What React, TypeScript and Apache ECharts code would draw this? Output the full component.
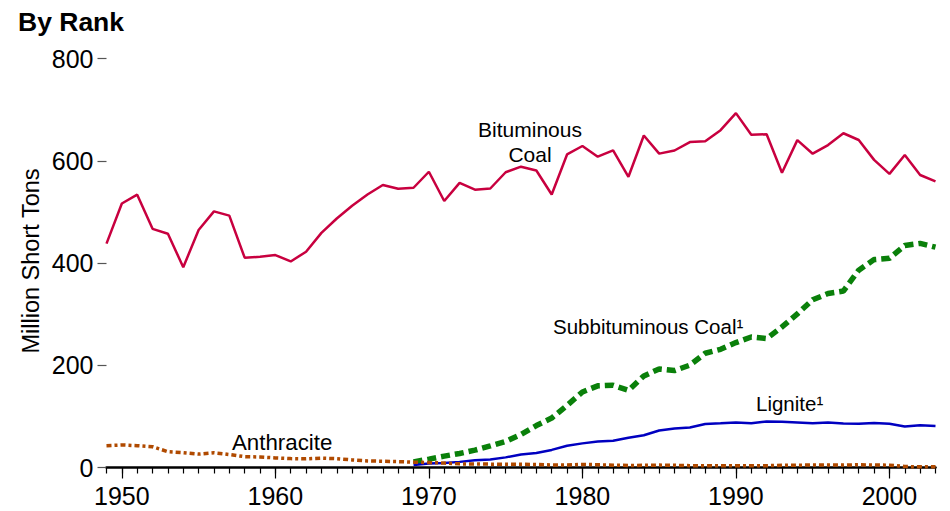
import React, { useEffect, useRef } from "react";
import * as echarts from "echarts";

const years: number[] = [];
for (let y = 1949; y <= 2003; y++) years.push(y);

const bituminous = [
  437.9, 516.3, 533.7, 466.8, 457.3, 391.7, 464.6, 500.9, 492.7, 410.4,
  412.0, 415.5, 403.0, 422.1, 458.9, 487.0, 512.1, 533.9, 552.6, 545.2,
  547.2, 578.5, 521.3, 556.8, 543.5, 545.7, 577.5, 588.4, 581.0, 534.0,
  612.3, 628.8, 608.0, 620.2, 568.6, 649.5, 613.9, 620.1, 636.6, 638.1,
  659.8, 693.2, 650.7, 651.8, 576.7, 640.3, 613.8, 630.7, 653.8, 640.6,
  601.7, 574.3, 611.3, 572.1, 559.6,
];

// Subbituminous and lignite are reported separately from 1969 on
const laterYears: number[] = years.filter((y) => y >= 1969);

const subbituminous = [
  10.9, 16.4, 22.2, 27.5, 33.9, 42.2, 51.1, 64.8, 82.1, 96.8,
  121.5, 147.7, 159.7, 160.9, 151.0, 179.2, 192.7, 189.6, 200.2, 223.5,
  231.2, 244.3, 255.3, 252.2, 274.9, 300.5, 328.0, 340.3, 345.1, 385.9,
  406.7, 409.2, 434.4, 438.4, 431.0,
];

const lignite = [
  5.0, 8.0, 8.7, 11.0, 14.3, 15.5, 19.8, 25.5, 28.2, 34.4,
  42.5, 47.2, 50.7, 52.4, 58.3, 63.1, 72.4, 76.4, 78.4, 85.1,
  86.4, 88.1, 86.5, 90.1, 89.5, 88.1, 86.5, 88.1, 86.3, 85.8,
  87.2, 85.6, 80.0, 82.5, 81.0,
];

const anthracite = [
  42.7, 44.1, 42.7, 40.6, 30.9, 29.1, 26.2, 28.9, 25.3, 21.2,
  20.6, 18.8, 17.4, 16.9, 18.3, 17.2, 14.9, 12.9, 12.3, 11.5,
  10.5, 9.7, 8.7, 7.1, 6.8, 6.6, 6.2, 6.2, 5.9, 5.0,
  4.8, 6.1, 5.4, 4.6, 4.1, 4.2, 4.7, 4.3, 3.6, 3.6,
  3.3, 3.5, 3.4, 3.5, 4.3, 4.6, 4.7, 4.8, 4.7, 5.3,
  4.8, 4.6, 1.9, 1.4, 1.3,
];

const xLabelYears = [1950, 1960, 1970, 1980, 1990, 2000];
const yTicks = [0, 200, 400, 600, 800];

const FONT = 'Arial, "Liberation Sans", Helvetica, sans-serif';

function pairs(xs: number[], vs: number[]) {
  return xs.map((x, i) => [x, vs[i]]);
}

export default function App() {
  const ref = useRef<HTMLDivElement>(null);

  useEffect(() => {
    if (!ref.current) return;
    const chart = echarts.init(ref.current, undefined, { renderer: "svg" });
    const option: any = {
      animation: false,
      backgroundColor: "#ffffff",
      textStyle: { fontFamily: FONT },
      title: {
        text: "By Rank",
        left: 13,
        top: 3,
        textStyle: { fontFamily: FONT, fontSize: 26.5, fontWeight: "bold", color: "#000" },
      },
      grid: {
        left: 106.5,
        right: 14.5,
        top: 58.5,
        bottom: 43.5,
        outerBoundsMode: "none",
      },
      xAxis: [
        {
          type: "value",
          min: 1949,
          max: 2003,
          position: "bottom",
          splitLine: { show: false },
          axisLine: { show: true, lineStyle: { color: "#000", width: 2.5 } },
          axisTick: {
            show: true,
            inside: false,
            length: 6,
            customValues: years,
            lineStyle: { color: "#000", width: 1.2 },
          },
          axisLabel: {
            customValues: xLabelYears,
            formatter: (v: number) => String(v),
            fontSize: 25,
            color: "#000",
            margin: 16,
            fontFamily: FONT,
          },
        },
        {
          type: "value",
          min: 1949,
          max: 2003,
          position: "bottom",
          splitLine: { show: false },
          axisLine: { show: false },
          axisTick: {
            show: true,
            length: 11,
            customValues: xLabelYears,
            lineStyle: { color: "#000", width: 1.2 },
          },
          axisLabel: { show: false },
        },
      ],
      yAxis: {
        type: "value",
        min: 0,
        max: 800,
        interval: 200,
        splitLine: { show: false },
        axisLine: { show: false },
        axisTick: { show: true, length: 9, lineStyle: { color: "#555", width: 1.2 } },
        axisLabel: {
          fontSize: 25,
          color: "#000",
          margin: 13,
          fontFamily: FONT,
          customValues: yTicks,
        },
      },
      series: [
        {
          name: "Bituminous Coal",
          type: "line",
          data: pairs(years, bituminous),
          showSymbol: false,
          lineStyle: { color: "#c8003f", width: 2.5 },
          z: 2,
        },
        {
          name: "Subbituminous Coal",
          type: "line",
          data: pairs(laterYears, subbituminous),
          showSymbol: false,
          lineStyle: { color: "#0a800a", width: 5.5, type: [9, 5] },
          z: 3,
        },
        {
          name: "Lignite",
          type: "line",
          data: pairs(laterYears, lignite),
          showSymbol: false,
          lineStyle: { color: "#0000c0", width: 2.5 },
          z: 4,
        },
        {
          name: "Anthracite",
          type: "line",
          data: pairs(years, anthracite),
          showSymbol: false,
          lineStyle: { color: "#b04a00", width: 3.5, type: [5, 3, 3, 3] },
          z: 5,
        },
      ],
      graphic: [
        {
          type: "text",
          x: 31,
          y: 261,
          rotation: Math.PI / 2,
          style: {
            text: "Million Short Tons",
            font: `23.5px ${FONT}`,
            fill: "#000",
            align: "center",
            verticalAlign: "middle",
          },
        },
        {
          type: "text",
          x: 530,
          y: 142,
          style: {
            text: "Bituminous\nCoal",
            font: `21px ${FONT}`,
            fill: "#000",
            align: "center",
            verticalAlign: "middle",
            lineHeight: 25,
          },
        },
        {
          type: "text",
          x: 553,
          y: 326,
          style: {
            text: "Subbituminous Coal¹",
            font: `20.5px ${FONT}`,
            fill: "#000",
            align: "left",
            verticalAlign: "middle",
          },
        },
        {
          type: "text",
          x: 756,
          y: 403,
          style: {
            text: "Lignite¹",
            font: `20.5px ${FONT}`,
            fill: "#000",
            align: "left",
            verticalAlign: "middle",
          },
        },
        {
          type: "text",
          x: 232,
          y: 442,
          style: {
            text: "Anthracite",
            font: `22.3px ${FONT}`,
            fill: "#000",
            align: "left",
            verticalAlign: "middle",
          },
        },
      ],
    };
    chart.setOption(option);
    return () => chart.dispose();
  }, []);

  return (
    <div
      ref={ref}
      style={{ position: "fixed", left: 0, top: 0, width: 950, height: 511 }}
    />
  );
}
